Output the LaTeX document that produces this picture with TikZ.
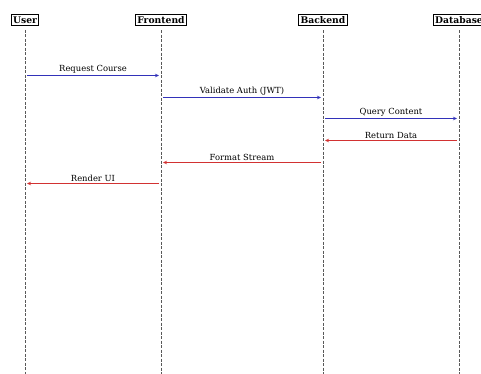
\documentclass[tikz,border=0pt]{standalone}
\usepackage{fontspec}
\setmainfont{DejaVu Serif}
\usetikzlibrary{arrows.meta}
\definecolor{msgblue}{RGB}{50,50,185}
\definecolor{msgred}{RGB}{210,50,50}
\begin{document}
\begin{tikzpicture}[
  x=1pt, y=-1pt,
  every node/.style={font=\fontsize{8.4pt}{9pt}\selectfont, inner sep=1.5pt}
]
\tikzset{
  ator/.style={draw, line width=1pt, font=\fontsize{9.2pt}{10pt}\selectfont\bfseries, inner sep=2pt},
  vida/.style={dash pattern=on 3pt off 1.5pt, thin, gray!70!black},
  ida/.style={draw=msgblue, line width=1pt, -{Stealth[length=4pt,width=3.5pt]}, shorten >=2pt, shorten <=2pt},
  volta/.style={draw=msgred, line width=1pt, -{Stealth[length=4pt,width=3.5pt]}, shorten >=2pt, shorten <=2pt}
}
\useasboundingbox (0,0) rectangle (481,374);
\node[ator] (user) at (25,20) {User};
\node[ator] (frontend) at (161,20) {Frontend};
\node[ator] (backend) at (323,20) {Backend};
\node[ator] (database) at (459,20) {Database};
\coordinate (userfim) at (25,374);
\coordinate (frontendfim) at (161,374);
\coordinate (backendfim) at (323,374);
\coordinate (databasefim) at (459,374);
\draw[vida] (user.south) ++(0,4) -- (userfim);
\draw[vida] (frontend.south) ++(0,4) -- (frontendfim);
\draw[vida] (backend.south) ++(0,4) -- (backendfim);
\draw[vida] (database.south) ++(0,4) -- (databasefim);
% mensagens
\draw[ida] (user |- 0,75.5) -- node[above] {Request Course} (frontend |- 0,75.5);
\draw[ida] (frontend |- 0,97.5) -- node[above] {Validate Auth (JWT)} (backend |- 0,97.5);
\draw[ida] (backend |- 0,118.5) -- node[above] {Query Content} (database |- 0,118.5);
\draw[volta] (database |- 0,140.5) -- node[above] {Return Data} (backend |- 0,140.5);
\draw[volta] (backend |- 0,162.5) -- node[above] {Format Stream} (frontend |- 0,162.5);
\draw[volta] (frontend |- 0,183.5) -- node[above] {Render UI} (user |- 0,183.5);
\end{tikzpicture}
\end{document}
